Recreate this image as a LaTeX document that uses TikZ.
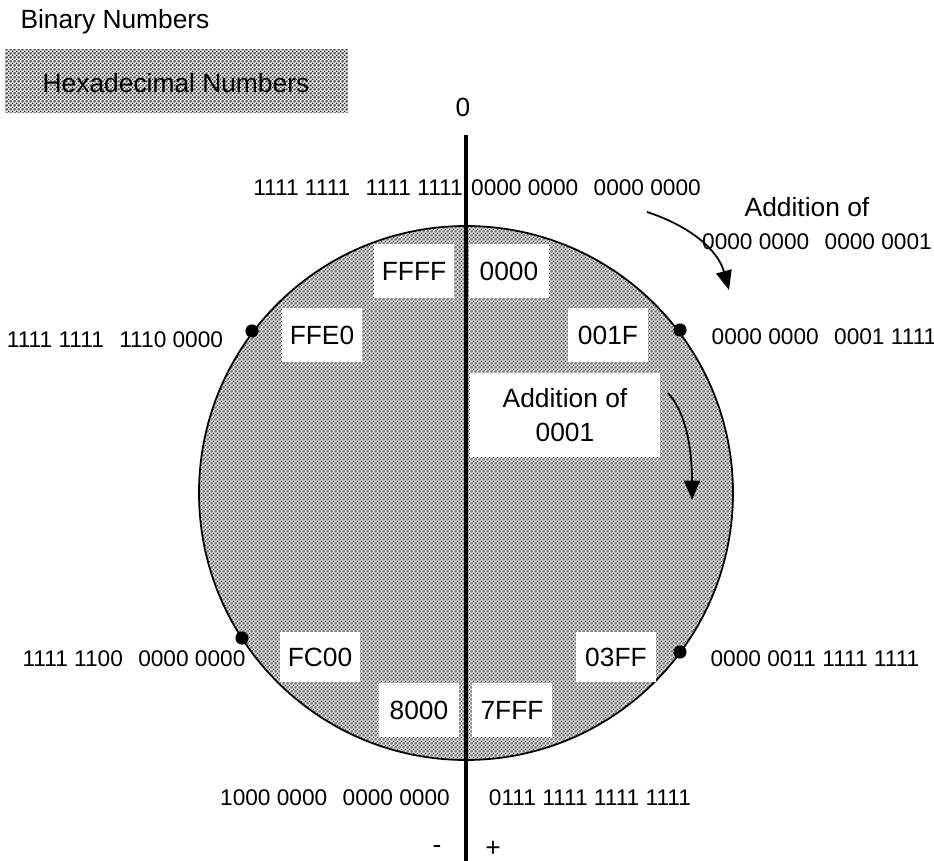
\documentclass[tikz,border=0pt]{standalone}
\usepackage{fontspec}
\setmainfont{Liberation Sans}
\usetikzlibrary{arrows.meta,patterns.meta}
\newcommand{\dgap}{\hspace{0.68em}}
\tikzdeclarepattern{
  name=halftone, type=uncolored,
  bottom left={(0pt,0pt)}, top right={(2pt,2pt)}, tile size={(2pt,2pt)},
  code={
    \fill (1pt,1pt) circle[radius=.53pt];
    \fill (0pt,0pt) circle[radius=.53pt]; \fill (2pt,0pt) circle[radius=.53pt];
    \fill (0pt,2pt) circle[radius=.53pt]; \fill (2pt,2pt) circle[radius=.53pt];
  }
}
\tikzset{
  hexbox/.style={fill=white, minimum width=1.6cm, minimum height=1.08cm, inner sep=0pt, font=\fontsize{15}{19}\selectfont},
  binlabel/.style={inner sep=0pt, font=\fontsize{12.9}{15}\selectfont},
  biglabel/.style={inner sep=0pt, font=\fontsize{15}{19}\selectfont},
  halfshade/.style={pattern=halftone, pattern color=black},
  markdot/.style={circle, fill=black, inner sep=0pt, minimum size=7.5pt},
  wraparrow/.style={-{Triangle[length=11pt,width=9pt]}, line width=1pt},
}
\begin{document}
\begin{tikzpicture}[x=0.02cm, y=-0.02cm]
    \useasboundingbox (0,0) rectangle (934,861);
    % key
    \node[biglabel] (binkey) at (115,22) {Binary Numbers};
    \fill[halfshade] (5,50) rectangle (348,113);
    \node[biglabel] (hexkey) at (176,83) {Hexadecimal Numbers};
    % number circle
    \coordinate (centre) at (466,493);
    \draw[halfshade, line width=1pt] (centre) circle[radius=267];
    \node[hexbox] (ffff) at (414,271) {FFFF};
    \node[hexbox] (h0000) at (509,271) {0000};
    \node[hexbox] (ffe0) at (322,335) {FFE0};
    \node[hexbox] (h001f) at (608,335) {001F};
    \node[hexbox, minimum width=3.8cm, minimum height=1.7cm, align=center] (addone) at (565,415) {Addition of\\0001};
    \node[hexbox, minimum height=1cm] (fc00) at (320,657) {FC00};
    \node[hexbox, minimum height=1cm] (h03ff) at (616,657) {03FF};
    \node[hexbox] (h8000) at (419,710) {8000};
    \node[hexbox] (h7fff) at (512,710) {7FFF};
    % sign axis
    \coordinate (axtop) at (466,135);
    \coordinate (axbot) at (466,861);
    \draw[line width=2.8pt] (axtop) -- (axbot);
    \node[biglabel] (zero) at (463,107) {0};
    \node[biglabel] (minus) at (437,849) {-};
    \node[biglabel] (plus) at (493,849) {+};
    % binary values
    \node[binlabel] (bffff) at (358,188) {1111 1111\dgap 1111 1111};
    \node[binlabel] (b0000) at (586,188) {0000 0000\dgap 0000 0000};
    \node[binlabel] (bffe0) at (115,340) {1111 1111\dgap 1110 0000};
    \node[binlabel] (b001f) at (824,337) {0000 0000\dgap 0001 1111};
    \node[binlabel] (bfc00) at (134,659) {1111 1100\dgap 0000 0000};
    \node[binlabel] (b03ff) at (815,659) {0000 0011 1111 1111};
    \node[binlabel] (b8000) at (335,798) {1000 0000\dgap 0000 0000};
    \node[binlabel] (b7fff) at (590,798) {0111 1111 1111 1111};
    \node[biglabel] (addtitle) at (807,207) {Addition of};
    \node[binlabel] (addbin) at (817,242) {0000 0000\dgap 0000 0001};
    % dots on the circle
    \node[markdot] (dffe0) at (252,331) {};
    \node[markdot] (d001f) at (680,330) {};
    \node[markdot] (dfc00) at (242,638) {};
    \node[markdot] (d03ff) at (680,652) {};
    % arrows
    \coordinate (outfrom) at (647,212);
    \coordinate (outto) at (729,290);
    \coordinate (infrom) at (668,393);
    \coordinate (into) at (692,500);
    \draw[wraparrow] (outfrom) .. controls (690,226) and (718,250) .. (outto);
    \draw[wraparrow] (infrom) .. controls (688,415) and (692,455) .. (into);
\end{tikzpicture}
\end{document}
